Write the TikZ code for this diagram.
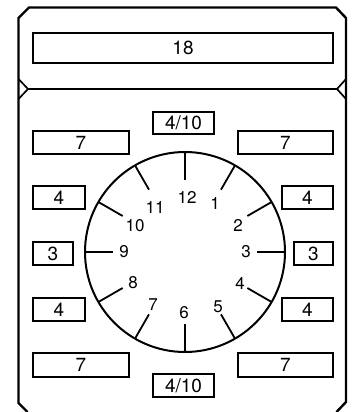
\documentclass[tikz,border=0pt]{standalone}
\usepackage{fontspec}
\setmainfont{TeX Gyre Heros}
\usetikzlibrary{calc}
\begin{document}
\begin{tikzpicture}[x=1pt,y=-1pt,
  outline/.style={line width=2.4pt,line join=miter},
  valbox/.style={draw,line width=1.8pt,rectangle,inner sep=0pt,font=\fontsize{19}{19}\selectfont},
  clocktext/.style={font=\fontsize{17}{17}\selectfont,inner sep=0pt},
  tick/.style={line width=1.8pt}]
\useasboundingbox (0,0) rectangle (353,412);
% outer frame
\draw[outline] (27.5,412) -- (18.5,403) -- (18.5,18) -- (29,7.5) -- (336,7.5) -- (346,18) -- (346,402) -- (336.5,412);
\draw[line width=1.7pt] (18.5,79) -- (28,89) -- (18.5,99);
\draw[line width=1.7pt] (346,79) -- (337,89) -- (346,99);
\coordinate (dl) at (28,89);
\coordinate (dr) at (337,89);
\draw[line width=2pt] (dl) -- (dr);
% value boxes: name, corners, text
\foreach \n/\xa/\ya/\xb/\yb/\t in {
  top/33/33/333/63/18,
  ft/153/112/214/134/4\slash10,
  fb/153/374/214/397/4\slash10,
  la/33/131/129/154/7,
  lb/33/186/85/209/4,
  lc/33/242/73/265/3,
  ld/33/298/85/321/4,
  le/33/353/129/377/7,
  ra/238/131/333/154/7,
  rb/282/186/333/209/4,
  rc/294/242/333/265/3,
  rd/282/298/333/321/4,
  re/238/353/333/377/7}{
  \node[valbox,minimum width=\xb-\xa,minimum height=\yb-\ya] (\n) at ({(\xa+\xb)/2},{(\ya+\yb)/2}) {\t};
}
% clock
\coordinate (c) at (185,252);
\node[draw,circle,line width=2pt,minimum size=200pt,inner sep=0pt] (dial) at (c) {};
\foreach \k in {1,...,12}{
  \draw[tick] ($(c)+({90-30*\k}:72)$) -- ($(c)+({90-30*\k}:100)$);
}
\foreach \k/\x/\y in {12/187/197, 1/215/203, 2/238/225, 3/246/252, 4/240/283, 5/218/307,
  6/184/313, 7/153/305, 8/133/283, 9/124/252, 10/135/226, 11/155/207}{
  \node[clocktext] (h\k) at (\x,\y) {\k};
}
\end{tikzpicture}
\end{document}
